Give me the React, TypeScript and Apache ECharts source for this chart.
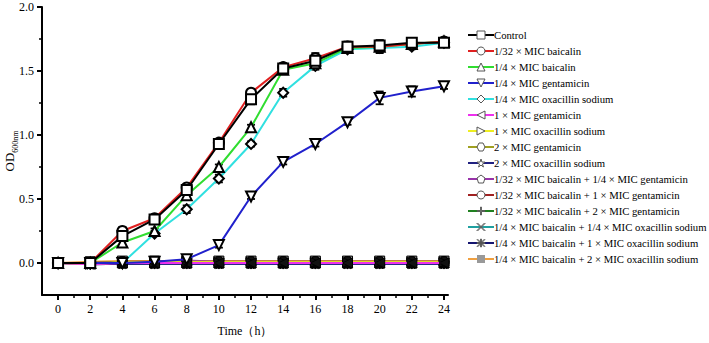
import React, { useEffect, useRef } from "react";
import * as echarts from "echarts";

const hours = [0, 2, 4, 6, 8, 10, 12, 14, 16, 18, 20, 22, 24];
const xTickLabels = [0, 2, 4, 6, 8, 10, 12, 14, 16, 18, 20, 22, 24];
const xMinorTicks = [1, 3, 5, 7, 9, 11, 13, 15, 17, 19, 21, 23];
const yTickLabels = [0, 0.5, 1.0, 1.5, 2.0];
const yMinorTicks = [0.25, 0.75, 1.25, 1.75];

const seriesNames = [
  "Control",
  "1/32 × MIC baicalin",
  "1/4 × MIC baicalin",
  "1/4 × MIC gentamicin",
  "1/4 × MIC oxacillin sodium",
  "1 × MIC gentamicin",
  "1 × MIC oxacillin sodium",
  "2 × MIC gentamicin",
  "2 × MIC oxacillin sodium",
  "1/32 × MIC baicalin + 1/4 × MIC gentamicin",
  "1/32 × MIC baicalin + 1 × MIC gentamicin",
  "1/32 × MIC baicalin + 2 × MIC gentamicin",
  "1/4 × MIC baicalin + 1/4 × MIC oxacillin sodium",
  "1/4 × MIC baicalin + 1 × MIC oxacillin sodium",
  "1/4 × MIC baicalin + 2 × MIC oxacillin sodium",
];

const control = [0, 0, 0.21, 0.34, 0.57, 0.93, 1.28, 1.52, 1.58, 1.69, 1.7, 1.72, 1.72];
const baicalin32 = [0, 0, 0.25, 0.35, 0.59, 0.94, 1.33, 1.53, 1.6, 1.69, 1.69, 1.71, 1.73];
const baicalin4 = [0, 0, 0.16, 0.25, 0.53, 0.75, 1.06, 1.51, 1.56, 1.68, 1.69, 1.71, 1.73];
const gent4 = [0, 0, 0, 0.01, 0.03, 0.14, 0.52, 0.79, 0.93, 1.1, 1.29, 1.34, 1.38];
const oxa4 = [0, 0, 0, 0.23, 0.42, 0.66, 0.93, 1.33, 1.54, 1.67, 1.68, 1.69, 1.72];
const gent1 = [0, -0.01, 0, 0, 0, 0, 0, 0, 0, 0, 0, 0, 0];
const oxa1 = [0, -0.01, 0.005, 0.005, 0.005, 0.005, 0.005, 0.005, 0.005, 0.005, 0.005, 0.005, 0.005];
const gent2 = [0, 0, 0.01, 0.01, 0.01, 0.01, 0.01, 0.01, 0.01, 0.01, 0.01, 0.01, 0.01];
const oxa2 = [0, -0.01, -0.005, -0.005, -0.005, -0.005, -0.005, -0.005, -0.005, -0.005, -0.005, -0.005, -0.005];
const b32g4 = [0, 0, 0.005, 0.01, 0.02, 0.01, 0.01, 0.01, 0.01, 0.01, 0.01, 0.01, 0.01];
const b32g1 = [0, 0, 0.01, 0.01, 0.01, 0.01, 0.01, 0.01, 0.01, 0.01, 0.01, 0.01, 0.01];
const b32g2 = [0, 0, 0.005, 0.005, 0.005, 0.005, 0.005, 0.005, 0.005, 0.005, 0.005, 0.005, 0.005];
const b4o4 = [0, 0, 0, 0, 0, 0, 0, 0, 0, 0, 0, 0, 0];
const b4o1 = [0, -0.01, -0.005, -0.005, -0.005, -0.005, -0.005, -0.005, -0.005, -0.005, -0.005, -0.005, -0.005];
const b4o2 = [0, 0.01, 0.015, 0.015, 0.015, 0.015, 0.015, 0.015, 0.015, 0.015, 0.015, 0.015, 0.015];

const errControl = [0, 0.02, 0.03, 0.02, 0.03, 0.02, 0.04, 0.03, 0.03, 0.04, 0.04, 0.03, 0.02];
const errBaicalin32 = [0, 0.02, 0.03, 0.02, 0.02, 0.02, 0.03, 0.03, 0.04, 0.03, 0.05, 0.03, 0.02];
const errBaicalin4 = [0, 0.02, 0.03, 0.02, 0.02, 0.02, 0.02, 0.03, 0.03, 0.03, 0.03, 0.02, 0.02];
const errGent4 = [0, 0.02, 0.02, 0.02, 0.02, 0.02, 0.02, 0.02, 0.02, 0.02, 0.05, 0.04, 0.02];
const errOxa4 = [0, 0.02, 0.02, 0.02, 0.03, 0.03, 0.02, 0.03, 0.03, 0.03, 0.03, 0.02, 0.02];
const errFlat = [0.01, 0.03, 0.03, 0.03, 0.03, 0.03, 0.03, 0.03, 0.03, 0.03, 0.03, 0.03, 0.03];

const lineColors = [
  "#000000", "#e02020", "#30dd30", "#2020cc", "#30e0e0",
  "#ee30ee", "#eeee20", "#a0a020", "#202080", "#9933aa",
  "#a02020", "#208020", "#20a0a0", "#151570", "#f0a040",
];

const symbols = [
  "rect",
  "circle",
  "triangle",
  "path://M0,0 L100,0 L50,100 Z",
  "diamond",
  "path://M0,50 L100,0 L100,100 Z",
  "path://M100,50 L0,0 L0,100 Z",
  "path://M25,0 L75,0 L100,50 L75,100 L25,100 L0,50 Z",
  "path://M50,0 L61,35 L98,35 L68,57 L79,91 L50,70 L21,91 L32,57 L2,35 L39,35 Z",
  "path://M50,0 L100,38 L81,100 L19,100 L0,38 Z",
  "circle",
  "path://M45,0 L55,0 L55,45 L100,45 L100,55 L55,55 L55,100 L45,100 L45,55 L0,55 L0,45 L45,45 Z",
  "path://M8,2 L2,8 L92,98 L98,92 Z M92,2 L98,8 L8,98 L2,92 Z",
  "path://M45,0 L55,0 L55,100 L45,100 Z M0,45 L100,45 L100,55 L0,55 Z M8,2 L2,8 L92,98 L98,92 Z M92,2 L98,8 L8,98 L2,92 Z",
  "path://M0,40 L100,40 L100,60 L0,60 Z",
];

const seriesValues = [control, baicalin32, baicalin4, gent4, oxa4, gent1, oxa1, gent2, oxa2, b32g4, b32g1, b32g2, b4o4, b4o1, b4o2];
const seriesErrors = [errControl, errBaicalin32, errBaicalin4, errGent4, errOxa4, errFlat, errFlat, errFlat, errFlat, errFlat, errFlat, errFlat, errFlat, errFlat, errFlat];

const FONT = '"Liberation Serif", "Times New Roman", serif';

export default function App() {
  const ref = useRef<HTMLDivElement>(null);
  useEffect(() => {
    if (!ref.current) return;
    const chart = echarts.init(ref.current, undefined, { renderer: "svg" });

    const lineSeries = seriesNames.map((name, i) => {
      const flat = i >= 5;
      const isDash = i === 14;
      return {
        type: "line",
        name,
        data: hours.map((h, j) => [h, seriesValues[i][j]]),
        symbol: symbols[i],
        symbolSize: 10,
        lineStyle: { color: lineColors[i], width: 2 },
        itemStyle: flat
          ? { color: isDash ? "#888" : "#111", borderColor: "#000", borderWidth: 1 }
          : { color: "#fff", borderColor: "#000", borderWidth: 2 },
        z: 20 - i,
      };
    });

    const errData: number[][] = [];
    seriesValues.forEach((vals, i) => {
      vals.forEach((v, j) => errData.push([hours[j], v, seriesErrors[i][j]]));
    });

    const errorSeries = {
      type: "custom",
      name: "err",
      data: errData,
      encode: { x: 0, y: 1 },
      z: 1,
      silent: true,
      renderItem: (params: any, api: any) => {
        const x = api.value(0);
        const y = api.value(1);
        const e = api.value(2);
        const top = api.coord([x, y + e]);
        const bot = api.coord([x, y - e]);
        const hw = 4;
        const st = { stroke: "#000", lineWidth: 1.8 };
        return {
          type: "group",
          children: [
            { type: "line", shape: { x1: top[0], y1: top[1], x2: bot[0], y2: bot[1] }, style: st },
            { type: "line", shape: { x1: top[0] - hw, y1: top[1], x2: top[0] + hw, y2: top[1] }, style: st },
            { type: "line", shape: { x1: bot[0] - hw, y1: bot[1], x2: bot[0] + hw, y2: bot[1] }, style: st },
          ],
        };
      },
    };

    const legendData = seriesNames.map((name, i) => ({
      name,
      itemStyle:
        i === 14
          ? { color: "#999", borderColor: "#999", borderWidth: 0 }
          : { color: "#fff", borderColor: "#555", borderWidth: 1 },
      lineStyle: { color: lineColors[i], width: 2 },
    }));

    chart.setOption({
      animation: false,
      textStyle: { fontFamily: FONT },
      grid: { left: 42, top: 7, width: 406, height: 288, containLabel: false, outerBoundsMode: "none" },
      legend: {
        orient: "vertical",
        left: 467,
        top: 27,
        padding: 0,
        itemWidth: 26,
        itemHeight: 10,
        itemGap: 0,
        data: legendData,
        textStyle: { fontFamily: FONT, fontSize: 10.7, color: "#000", lineHeight: 16, padding: [0, 0, 0, -5] },
        selectedMode: false,
      },
      xAxis: [
        {
          type: "value",
          min: -1,
          max: 24.25,
          interval: 1,
          name: "Time（h）",
          nameLocation: "middle",
          nameGap: 30,
          nameTextStyle: { fontFamily: FONT, fontSize: 12, color: "#000" },
          axisLine: { show: true, onZero: false, lineStyle: { color: "#000", width: 2 } },
          axisTick: { show: true, customValues: xTickLabels, length: 5, lineStyle: { color: "#000", width: 2 } },
          axisLabel: { customValues: xTickLabels, fontFamily: FONT, fontSize: 12, color: "#000", margin: 8 },
          splitLine: { show: false },
        },
        {
          type: "value",
          min: -1,
          max: 24.25,
          interval: 1,
          position: "bottom",
          axisLine: { show: false, onZero: false },
          axisTick: { show: true, customValues: xMinorTicks, length: 3, lineStyle: { color: "#000", width: 1.5 } },
          axisLabel: { show: false },
          splitLine: { show: false },
        },
      ],
      yAxis: [
        {
          type: "value",
          min: -0.25,
          max: 2.0,
          interval: 0.25,
          name: "{a|OD}{s|600nm}",
          nameLocation: "middle",
          nameRotate: 90,
          nameGap: 26,
          nameMoveOverlap: false,
          nameTextStyle: {
            rich: {
              a: { fontFamily: FONT, fontSize: 13, color: "#000", lineHeight: 16, verticalAlign: "bottom" },
              s: { fontFamily: FONT, fontSize: 8, color: "#000", lineHeight: 16, verticalAlign: "bottom", padding: [0, 0, -3, 0] },
            },
          },
          axisLine: { show: true, onZero: false, lineStyle: { color: "#000", width: 2 } },
          axisTick: { show: true, customValues: yTickLabels, length: 5, lineStyle: { color: "#000", width: 2 } },
          axisLabel: {
            customValues: yTickLabels,
            fontFamily: FONT,
            fontSize: 12,
            color: "#000",
            margin: 8,
            formatter: (v: number) => v.toFixed(1),
          },
          splitLine: { show: false },
        },
        {
          type: "value",
          min: -0.25,
          max: 2.0,
          interval: 0.25,
          position: "left",
          axisLine: { show: false, onZero: false },
          axisTick: { show: true, customValues: yMinorTicks, length: 3, lineStyle: { color: "#000", width: 1.5 } },
          axisLabel: { show: false },
          splitLine: { show: false },
        },
      ],
      series: [errorSeries, ...lineSeries],
    });
    return () => chart.dispose();
  }, []);
  return (
    <div
      ref={ref}
      style={{ position: "fixed", left: 0, top: 0, width: 709, height: 343, background: "#fff" }}
    />
  );
}
